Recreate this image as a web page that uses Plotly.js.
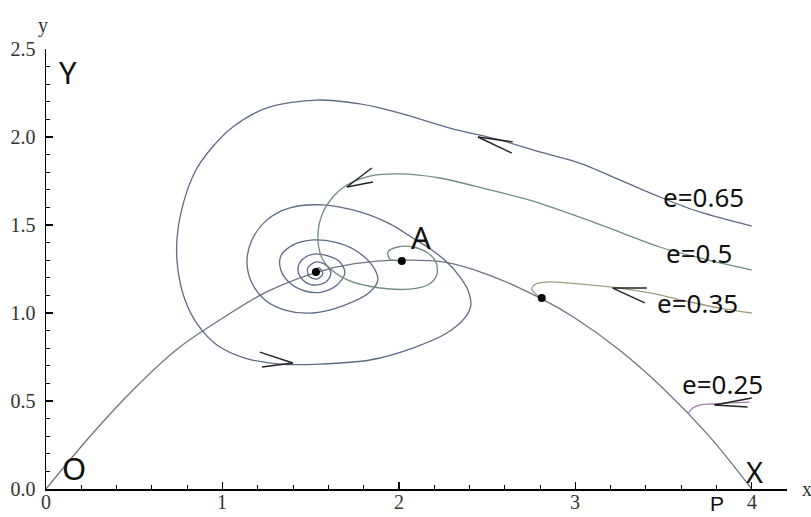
<!DOCTYPE html>
<html>
<head>
<meta charset="utf-8">
<script src="https://cdn.plot.ly/plotly-3.0.1.min.js"></script>
<style>html,body{margin:0;padding:0;background:#fff;}#chart{width:811px;height:517px;}</style>
</head>
<body>
<div id="chart"></div>
<script>
// Prey isocline (O -> A -> X)
const isoX = [0, 0.25, 0.5, 0.75, 1.0, 1.25, 1.53, 1.75, 2.02, 2.25, 2.5, 2.81, 3.0, 3.25, 3.5, 3.75, 4.0];
const isoY = [0, 0.30, 0.57, 0.80, 0.97, 1.12, 1.23, 1.28, 1.30, 1.29, 1.22, 1.08, 0.97, 0.79, 0.57, 0.31, 0];

// e = 0.65 trajectory
const e65X = [4.000,3.705,3.479,3.252,3.025,2.799,2.572,2.289,2.006,1.779,1.535,1.252,1.059,0.929,0.844,0.776,0.742,0.748,0.788,0.861,0.969,1.127,1.326,1.552,1.836,2.079,2.272,2.374,2.408,2.391,2.346,2.278,2.187,2.079,1.949,1.779,1.569,1.382,1.252,1.167,1.139,1.167,1.241,1.354,1.513,1.694,1.836,1.881,1.847,1.751,1.637,1.513,1.399,1.331,1.331,1.382,1.467,1.564,1.649,1.694,1.666,1.598,1.518,1.450,1.428,1.456,1.518,1.586,1.615,1.586,1.530,1.484,1.490,1.535,1.569,1.547,1.518,1.530];
const e65Y = [1.494,1.574,1.659,1.756,1.852,1.915,1.983,2.051,2.136,2.188,2.210,2.165,2.057,1.926,1.801,1.614,1.415,1.244,1.074,0.932,0.818,0.744,0.710,0.710,0.733,0.801,0.886,0.972,1.045,1.131,1.205,1.284,1.358,1.426,1.506,1.574,1.614,1.597,1.528,1.415,1.290,1.170,1.074,1.017,1.000,1.045,1.119,1.188,1.273,1.358,1.403,1.415,1.386,1.324,1.244,1.170,1.125,1.119,1.159,1.227,1.290,1.324,1.335,1.301,1.244,1.188,1.159,1.176,1.227,1.273,1.290,1.256,1.210,1.193,1.222,1.256,1.239,1.233];

// e = 0.5 trajectory
const e50X = [4.000,3.705,3.479,3.252,3.025,2.742,2.516,2.232,2.006,1.836,1.705,1.626,1.564,1.541,1.564,1.620,1.722,1.892,2.062,2.164,2.215,2.210,2.164,2.079,1.994,1.938,1.949,2.017];
const e50Y = [1.244,1.313,1.375,1.460,1.545,1.642,1.699,1.767,1.790,1.778,1.727,1.659,1.557,1.432,1.313,1.244,1.182,1.142,1.136,1.159,1.216,1.290,1.341,1.375,1.375,1.347,1.307,1.295];

// e = 0.35 trajectory
const e35X = [4.000,3.819,3.649,3.422,3.195,2.969,2.844,2.776,2.754,2.776,2.810];
const e35Y = [1.000,1.028,1.063,1.114,1.148,1.170,1.176,1.165,1.136,1.108,1.085];

// e = 0.25 trajectory
const e25X = [3.989,3.875,3.779,3.705,3.666,3.643];
const e25Y = [0.494,0.489,0.483,0.477,0.460,0.432];

// equilibrium points
const eqX = [1.530, 2.017, 2.810];
const eqY = [1.233, 1.295, 1.085];

// direction arrows: tip, arm1, arm2
const arrows = [
  {tip:[2.448,2.000], a:[2.646,1.972], b:[2.640,1.909]},
  {tip:[1.399,0.716], a:[1.212,0.778], b:[1.224,0.693]},
  {tip:[1.705,1.716], a:[1.847,1.824], b:[1.853,1.744]},
  {tip:[3.212,1.142], a:[3.405,1.142], b:[3.394,1.057]},
  {tip:[3.790,0.477], a:[4.000,0.517], b:[3.977,0.466]}
];

const yTicks = [0, 0.5, 1.0, 1.5, 2.0, 2.5];
const xTicks = [0, 1, 2, 3, 4];

const lw = 1.3;
const traces = [
  {x: isoX, y: isoY, mode:'lines', line:{color:'#6e7386', width:lw, shape:'spline', smoothing:1}, hoverinfo:'skip'},
  {x: e65X, y: e65Y, mode:'lines', line:{color:'#5d6b86', width:lw, shape:'spline', smoothing:0.9}, hoverinfo:'skip'},
  {x: e50X, y: e50Y, mode:'lines', line:{color:'#6f8c80', width:lw, shape:'spline', smoothing:0.9}, hoverinfo:'skip'},
  {x: e35X, y: e35Y, mode:'lines', line:{color:'#a39c7e', width:lw, shape:'spline', smoothing:0.9}, hoverinfo:'skip'},
  {x: e25X, y: e25Y, mode:'lines', line:{color:'#a27ea8', width:lw, shape:'spline', smoothing:0.9}, hoverinfo:'skip'},
  {x: eqX, y: eqY, mode:'markers', marker:{color:'#000', size:8}, hoverinfo:'skip'}
];

const shapes = [];
arrows.forEach(ar => {
  [ar.a, ar.b].forEach(p => {
    shapes.push({type:'line', xref:'x', yref:'y', x0:ar.tip[0], y0:ar.tip[1], x1:p[0], y1:p[1], line:{color:'#222', width:1.4}});
  });
});

const sans = 'Noto Sans, Open Sans, sans-serif';
const serif = 'Liberation Serif, Times New Roman, serif';
function lab(text, x, y, size){
  return {text:text, x:x, y:y, xref:'x', yref:'y', showarrow:false, font:{family:sans, size:size, color:'#111'}, xanchor:'center', yanchor:'middle'};
}
function plab(text, x, y, size, fam, col){
  return {text:text, x:x, y:y, xref:'paper', yref:'paper', showarrow:false, font:{family:fam, size:size, color:col}, xanchor:'center', yanchor:'middle'};
}
const annotations = [
  lab('Y', 0.125, 2.369, 31),
  lab('O', 0.159, 0.119, 31),
  lab('A', 2.125, 1.432, 31),
  lab('X', 4.017, 0.10, 29),
  {text:'P', x:0.9055, y:0, xref:'paper', yref:'paper', yanchor:'top', xanchor:'center', yshift:-1,
   showarrow:false, font:{family:'Liberation Sans, Arial, sans-serif', size:21, color:'#111'}},
  lab('e=0.65', 3.728, 1.659, 26),
  lab('e=0.5', 3.700, 1.341, 26),
  lab('e=0.35', 3.694, 1.057, 26),
  lab('e=0.25', 3.836, 0.597, 26),
  plab('x', 1.027, 0.0, 20, serif, '#333'),
  plab('y', -0.004, 1.0545, 20, serif, '#333')
];
// x tick labels placed just under the axis
xTicks.forEach(v => {
  annotations.push({text:String(v), x:v, y:0, xref:'x', yref:'paper', yanchor:'top', xanchor:'center',
    yshift:0, showarrow:false, font:{family:serif, size:20, color:'#333'}});
});

const layout = {
  width: 811, height: 517,
  margin: {l:46, r:24, t:49, b:28, pad:0},
  paper_bgcolor:'#fff', plot_bgcolor:'#fff',
  showlegend:false,
  xaxis: {
    range:[0, 4.2], showgrid:false, zeroline:false,
    showline:true, linecolor:'#000', linewidth:1.5,
    ticks:'inside', ticklen:7, tickwidth:1.5, tickcolor:'#000',
    tickvals: xTicks, showticklabels:false,
    minor:{dtick:0.2, tick0:0, ticks:'inside', ticklen:4, tickwidth:1, tickcolor:'#000', showgrid:false},
    fixedrange:true
  },
  yaxis: {
    range:[0, 2.5], showgrid:false, zeroline:false,
    showline:true, linecolor:'#000', linewidth:1.5,
    ticks:'inside', ticklen:7, tickwidth:1.5, tickcolor:'#000',
    tickvals: yTicks, ticktext: yTicks.map(v => v.toFixed(1)),
    tickfont:{family:serif, size:20, color:'#333'},
    ticklabelstandoff: 5,
    minor:{dtick:0.1, tick0:0, ticks:'inside', ticklen:4, tickwidth:1, tickcolor:'#000', showgrid:false},
    fixedrange:true
  },
  shapes: shapes,
  annotations: annotations
};

Plotly.newPlot('chart', traces, layout, {staticPlot:true, displayModeBar:false});
</script>
</body>
</html>
